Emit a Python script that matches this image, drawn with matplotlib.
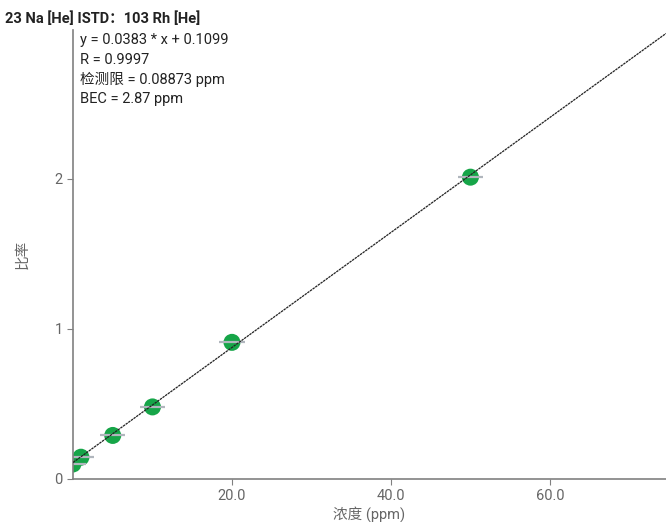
import matplotlib
matplotlib.use("Agg")
import matplotlib.pyplot as plt

plt.rcParams['font.family'] = ['Roboto', 'Noto Sans CJK SC', 'DejaVu Sans']

conc = [0.0, 1.0, 5.0, 10.0, 20.0, 50.0]
ratio = [0.10, 0.145, 0.29, 0.48, 0.91, 2.01]
slope = 0.0383
intercept = 0.1099
xticks = [20.0, 40.0, 60.0]
xticklabels = ["20.0", "40.0", "60.0"]
yticks = [0, 1, 2]
title = "23 Na [He] ISTD：103 Rh [He]"
info = ["y = 0.0383 * x + 0.1099", "R = 0.9997", "检测限 = 0.08873 ppm", "BEC = 2.87 ppm"]

fig = plt.figure(figsize=(6.66, 5.22), dpi=100)
ax = fig.add_axes([0.1096, 0.0824, 0.8904, 0.8601])
xmax = 74.6
ax.set_xlim(0, xmax)
ax.set_ylim(0, 2.99)

ax.plot([0, xmax], [intercept, slope * xmax + intercept], color='#222222', lw=0.9, ls=(0, (2, 0.6)), zorder=3)
ax.scatter(conc, ratio, s=150, color='#16a548', zorder=2, edgecolors='none')
ax.errorbar(conc, ratio, xerr=1.6, fmt='none', ecolor='#b0b6bd', elinewidth=1.6, capsize=0, zorder=2.5)

for s in ['top', 'right']:
    ax.spines[s].set_visible(False)
for s in ['left', 'bottom']:
    ax.spines[s].set_color('#808080')
    ax.spines[s].set_linewidth(1.2)

ax.set_xticks(xticks)
ax.set_xticklabels(xticklabels)
ax.set_yticks(yticks)
ax.tick_params(colors='#808080', labelcolor='#666666', labelsize=10.5, length=4)
ax.set_xlabel("浓度 (ppm)", color='#666666', fontsize=10.5, labelpad=2)
ax.set_ylabel("比率", color='#666666', fontsize=10.5, labelpad=18)

fig.text(0.008, 0.978, title, fontsize=10.5, fontweight='bold', va='top', ha='left', color='#222222')
for i, line in enumerate(info):
    fig.text(0.12, 0.936 - i * 0.0372, line, fontsize=10.5, va='top', ha='left', color='#222222')

fig.savefig("out.png", dpi=100)
